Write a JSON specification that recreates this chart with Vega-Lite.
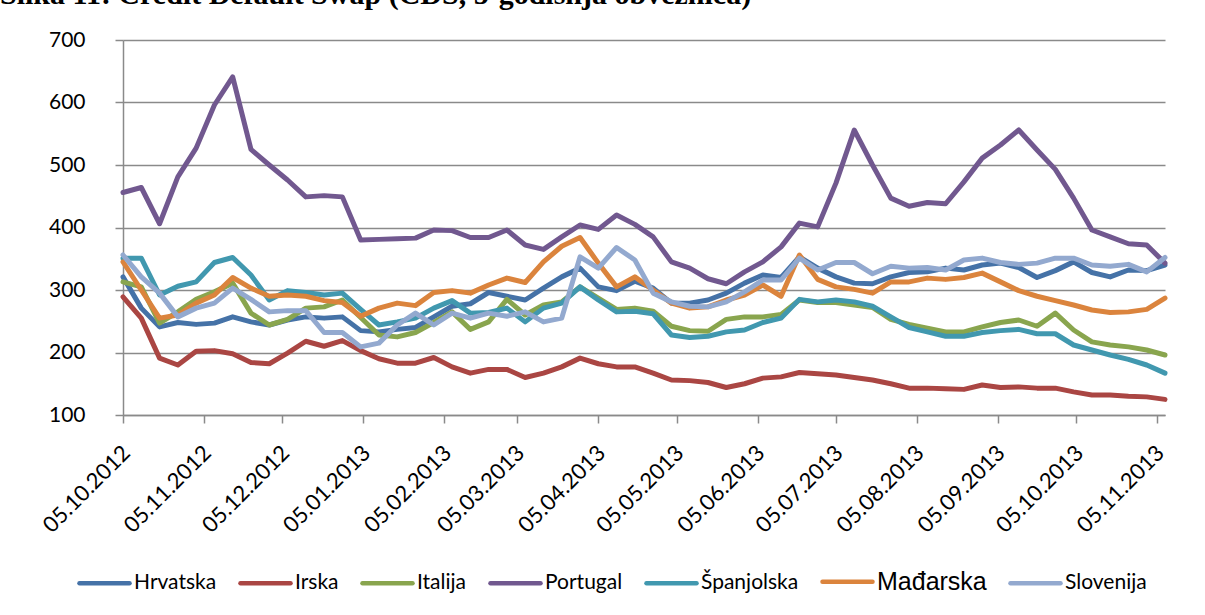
{
  "$schema": "https://vega.github.io/schema/vega-lite/v6.json",
  "width": 1042,
  "height": 375,
  "autosize": {"type": "none"},
  "padding": {"left": 123, "top": 40, "right": 40, "bottom": 200},
  "background": "white",
  "title": {"text": "Slika 11: Credit Default Swap (CDS, 5-godišnja obveznica)", "anchor": "start", "frame": "group", "font": "Liberation Serif", "fontSize": 30, "fontWeight": "bold", "color": "black", "offset": 0, "dx": -123, "dy": 11, "baseline": "bottom"},
  "data": {"values": [
    {"d":"2012-10-05","Hrvatska":321,"Irska":289,"Italija":313,"Portugal":456,"Španjolska":351,"Mađarska":345,"Slovenija":356},
    {"d":"2012-10-12","Hrvatska":271,"Irska":255,"Italija":305,"Portugal":464,"Španjolska":351,"Mađarska":300,"Slovenija":321},
    {"d":"2012-10-19","Hrvatska":241,"Irska":191,"Italija":247,"Portugal":406,"Španjolska":292,"Mađarska":255,"Slovenija":295},
    {"d":"2012-10-26","Hrvatska":248,"Irska":180,"Italija":265,"Portugal":481,"Španjolska":306,"Mađarska":260,"Slovenija":257},
    {"d":"2012-11-02","Hrvatska":245,"Irska":202,"Italija":285,"Portugal":527,"Španjolska":313,"Mađarska":279,"Slovenija":271},
    {"d":"2012-11-09","Hrvatska":247,"Irska":203,"Italija":297,"Portugal":596,"Španjolska":344,"Mađarska":292,"Slovenija":279},
    {"d":"2012-11-16","Hrvatska":257,"Irska":198,"Italija":311,"Portugal":641,"Španjolska":352,"Mađarska":320,"Slovenija":303},
    {"d":"2012-11-23","Hrvatska":249,"Irska":184,"Italija":263,"Portugal":525,"Španjolska":324,"Mađarska":303,"Slovenija":285},
    {"d":"2012-11-30","Hrvatska":244,"Irska":182,"Italija":244,"Portugal":500,"Španjolska":284,"Mađarska":290,"Slovenija":265},
    {"d":"2012-12-07","Hrvatska":252,"Irska":199,"Italija":253,"Portugal":476,"Španjolska":299,"Mađarska":292,"Slovenija":267},
    {"d":"2012-12-14","Hrvatska":257,"Irska":218,"Italija":271,"Portugal":449,"Španjolska":296,"Mađarska":290,"Slovenija":267},
    {"d":"2012-12-21","Hrvatska":255,"Irska":210,"Italija":273,"Portugal":451,"Španjolska":292,"Mađarska":283,"Slovenija":232},
    {"d":"2012-12-28","Hrvatska":257,"Irska":219,"Italija":284,"Portugal":449,"Španjolska":295,"Mađarska":280,"Slovenija":232},
    {"d":"2013-01-04","Hrvatska":235,"Irska":203,"Italija":256,"Portugal":380,"Španjolska":269,"Mađarska":258,"Slovenija":209},
    {"d":"2013-01-11","Hrvatska":233,"Irska":190,"Italija":228,"Portugal":381,"Španjolska":244,"Mađarska":271,"Slovenija":215},
    {"d":"2013-01-18","Hrvatska":237,"Irska":183,"Italija":225,"Portugal":382,"Španjolska":249,"Mađarska":279,"Slovenija":244},
    {"d":"2013-01-25","Hrvatska":240,"Irska":183,"Italija":232,"Portugal":383,"Španjolska":255,"Mađarska":275,"Slovenija":263},
    {"d":"2013-02-01","Hrvatska":257,"Irska":192,"Italija":248,"Portugal":396,"Španjolska":271,"Mađarska":296,"Slovenija":244},
    {"d":"2013-02-08","Hrvatska":274,"Irska":177,"Italija":265,"Portugal":395,"Španjolska":283,"Mađarska":299,"Slovenija":263},
    {"d":"2013-02-15","Hrvatska":278,"Irska":167,"Italija":237,"Portugal":384,"Španjolska":263,"Mađarska":295,"Slovenija":255},
    {"d":"2013-02-22","Hrvatska":296,"Irska":173,"Italija":249,"Portugal":384,"Španjolska":264,"Mađarska":308,"Slovenija":263},
    {"d":"2013-03-01","Hrvatska":290,"Irska":173,"Italija":285,"Portugal":396,"Španjolska":271,"Mađarska":319,"Slovenija":258},
    {"d":"2013-03-08","Hrvatska":284,"Irska":160,"Italija":260,"Portugal":372,"Španjolska":249,"Mađarska":312,"Slovenija":265},
    {"d":"2013-03-15","Hrvatska":303,"Irska":167,"Italija":276,"Portugal":365,"Španjolska":271,"Mađarska":345,"Slovenija":249},
    {"d":"2013-03-22","Hrvatska":321,"Irska":177,"Italija":281,"Portugal":385,"Španjolska":279,"Mađarska":370,"Slovenija":255},
    {"d":"2013-03-29","Hrvatska":335,"Irska":191,"Italija":305,"Portugal":404,"Španjolska":305,"Mađarska":384,"Slovenija":353},
    {"d":"2013-04-05","Hrvatska":305,"Irska":182,"Italija":287,"Portugal":397,"Španjolska":284,"Mađarska":343,"Slovenija":335},
    {"d":"2013-04-12","Hrvatska":299,"Irska":177,"Italija":269,"Portugal":420,"Španjolska":265,"Mađarska":305,"Slovenija":368},
    {"d":"2013-04-19","Hrvatska":314,"Irska":177,"Italija":271,"Portugal":405,"Španjolska":266,"Mađarska":321,"Slovenija":348},
    {"d":"2013-04-26","Hrvatska":303,"Irska":167,"Italija":266,"Portugal":385,"Španjolska":262,"Mađarska":300,"Slovenija":295},
    {"d":"2013-05-03","Hrvatska":279,"Irska":156,"Italija":242,"Portugal":345,"Španjolska":228,"Mađarska":279,"Slovenija":281},
    {"d":"2013-05-10","Hrvatska":279,"Irska":155,"Italija":235,"Portugal":335,"Španjolska":224,"Mađarska":271,"Slovenija":274},
    {"d":"2013-05-17","Hrvatska":284,"Irska":152,"Italija":234,"Portugal":318,"Španjolska":226,"Mađarska":273,"Slovenija":273},
    {"d":"2013-05-24","Hrvatska":295,"Irska":144,"Italija":253,"Portugal":310,"Španjolska":233,"Mađarska":284,"Slovenija":281},
    {"d":"2013-05-31","Hrvatska":311,"Irska":150,"Italija":257,"Portugal":329,"Španjolska":236,"Mađarska":292,"Slovenija":297},
    {"d":"2013-06-07","Hrvatska":324,"Irska":159,"Italija":257,"Portugal":345,"Španjolska":248,"Mađarska":308,"Slovenija":316},
    {"d":"2013-06-14","Hrvatska":320,"Irska":161,"Italija":261,"Portugal":369,"Španjolska":255,"Mađarska":290,"Slovenija":316},
    {"d":"2013-06-21","Hrvatska":353,"Irska":168,"Italija":284,"Portugal":407,"Španjolska":285,"Mađarska":356,"Slovenija":351},
    {"d":"2013-06-28","Hrvatska":335,"Irska":166,"Italija":280,"Portugal":401,"Španjolska":281,"Mađarska":317,"Slovenija":332},
    {"d":"2013-07-05","Hrvatska":321,"Irska":164,"Italija":280,"Portugal":471,"Španjolska":284,"Mađarska":305,"Slovenija":344},
    {"d":"2013-07-12","Hrvatska":311,"Irska":160,"Italija":276,"Portugal":556,"Španjolska":281,"Mađarska":301,"Slovenija":344},
    {"d":"2013-07-19","Hrvatska":310,"Irska":156,"Italija":272,"Portugal":500,"Španjolska":274,"Mađarska":295,"Slovenija":326},
    {"d":"2013-07-26","Hrvatska":321,"Irska":150,"Italija":253,"Portugal":447,"Španjolska":257,"Mađarska":313,"Slovenija":338},
    {"d":"2013-08-02","Hrvatska":328,"Irska":143,"Italija":245,"Portugal":434,"Španjolska":240,"Mađarska":313,"Slovenija":335},
    {"d":"2013-08-09","Hrvatska":329,"Irska":143,"Italija":239,"Portugal":440,"Španjolska":233,"Mađarska":319,"Slovenija":336},
    {"d":"2013-08-16","Hrvatska":335,"Irska":142,"Italija":233,"Portugal":438,"Španjolska":226,"Mađarska":317,"Slovenija":332},
    {"d":"2013-08-23","Hrvatska":332,"Irska":141,"Italija":233,"Portugal":473,"Španjolska":226,"Mađarska":320,"Slovenija":348},
    {"d":"2013-08-30","Hrvatska":340,"Irska":148,"Italija":241,"Portugal":511,"Španjolska":232,"Mađarska":327,"Slovenija":351},
    {"d":"2013-09-06","Hrvatska":343,"Irska":144,"Italija":248,"Portugal":532,"Španjolska":235,"Mađarska":313,"Slovenija":344},
    {"d":"2013-09-13","Hrvatska":336,"Irska":145,"Italija":252,"Portugal":556,"Španjolska":237,"Mađarska":299,"Slovenija":341},
    {"d":"2013-09-20","Hrvatska":320,"Irska":143,"Italija":242,"Portugal":524,"Španjolska":230,"Mađarska":290,"Slovenija":343},
    {"d":"2013-09-27","Hrvatska":331,"Irska":143,"Italija":263,"Portugal":493,"Španjolska":230,"Mađarska":283,"Slovenija":351},
    {"d":"2013-10-04","Hrvatska":345,"Irska":137,"Italija":236,"Portugal":447,"Španjolska":212,"Mađarska":276,"Slovenija":351},
    {"d":"2013-10-11","Hrvatska":328,"Irska":132,"Italija":217,"Portugal":396,"Španjolska":204,"Mađarska":268,"Slovenija":340},
    {"d":"2013-10-18","Hrvatska":321,"Irska":132,"Italija":212,"Portugal":385,"Španjolska":196,"Mađarska":264,"Slovenija":338},
    {"d":"2013-10-25","Hrvatska":332,"Irska":130,"Italija":209,"Portugal":374,"Španjolska":189,"Mađarska":265,"Slovenija":341},
    {"d":"2013-11-01","Hrvatska":331,"Irska":129,"Italija":204,"Portugal":372,"Španjolska":180,"Mađarska":269,"Slovenija":329},
    {"d":"2013-11-08","Hrvatska":340,"Irska":125,"Italija":196,"Portugal":343,"Španjolska":167,"Mađarska":287,"Slovenija":352}
  ]},
  "transform": [
    {"fold": ["Hrvatska","Irska","Italija","Portugal","Španjolska","Mađarska","Slovenija"], "as": ["country","cds"]}
  ],
  "mark": {"type": "line", "strokeWidth": 5, "strokeJoin": "round", "strokeCap": "round"},
  "encoding": {
    "x": {
      "field": "d", "type": "temporal",
      "scale": {"type": "utc", "domain": [{"year":2012,"month":10,"date":5,"utc":true},{"year":2013,"month":11,"date":8,"utc":true}]},
      "axis": {
        "title": null,
        "grid": false,
        "values": [
          {"year":2012,"month":10,"date":5,"utc":true},{"year":2012,"month":11,"date":5,"utc":true},{"year":2012,"month":12,"date":5,"utc":true},
          {"year":2013,"month":1,"date":5,"utc":true},{"year":2013,"month":2,"date":5,"utc":true},{"year":2013,"month":3,"date":5,"utc":true},
          {"year":2013,"month":4,"date":5,"utc":true},{"year":2013,"month":5,"date":5,"utc":true},{"year":2013,"month":6,"date":5,"utc":true},
          {"year":2013,"month":7,"date":5,"utc":true},{"year":2013,"month":8,"date":5,"utc":true},{"year":2013,"month":9,"date":5,"utc":true},
          {"year":2013,"month":10,"date":5,"utc":true},{"year":2013,"month":11,"date":5,"utc":true}
        ],
        "labelExpr": "utcFormat(datum.value, '%d.%m.%Y')",
        "labelAngle": -45, "labelAlign": "right", "labelBaseline": "middle",
        "labelPadding": 26, "labelOffset": 3,
        "labelFont": "Lato", "labelFontSize": 22, "labelColor": "black",
        "labelOverlap": false, "labelFlush": false, "labelBound": false,
        "domainColor": "#8a8a8a", "domainWidth": 1.5,
        "tickColor": "#8a8a8a", "tickWidth": 1.5, "tickSize": 8
      }
    },
    "y": {
      "field": "cds", "type": "quantitative",
      "scale": {"domain": [100, 700], "nice": false, "zero": false},
      "axis": {
        "title": null,
        "values": [100,200,300,400,500,600,700],
        "grid": true, "gridColor": "#8a8a8a", "gridWidth": 1.5,
        "domainColor": "#8a8a8a", "domainWidth": 1.5,
        "tickColor": "#8a8a8a", "tickWidth": 1.5, "tickSize": 8,
        "labelPadding": 30,
        "labelFont": "Lato", "labelFontSize": 21, "labelColor": "black"
      }
    },
    "color": {
      "field": "country", "type": "nominal",
      "scale": {
        "domain": ["Hrvatska","Irska","Italija","Portugal","Španjolska","Mađarska","Slovenija"],
        "range": ["#4572A7","#AA4643","#89A54E","#71588F","#4198AF","#DB843D","#93A9CF"]
      },
      "legend": {
        "title": null,
        "orient": "none",
        "legendX": -46,
        "legendY": 514,
        "direction": "horizontal",
        "symbolType": "stroke",
        "symbolSize": 2500,
        "symbolStrokeWidth": 4.5,
        "labelFont": "Lato",
        "labelFontSize": 21,
        "labelColor": "black",
        "labelOffset": 2,
        "columnPadding": 14,
        "labelLimit": 300,
        "encode": {
          "labels": {"update": {"fontSize": {"signal": "datum.label == 'Mađarska' ? 25 : 21"}, "font": {"signal": "datum.label == 'Mađarska' ? 'Liberation Sans' : 'Lato'"}}},
          "symbols": {"update": {"strokeCap": {"value": "round"}}}
        }
      }
    }
  },
  "config": {"view": {"stroke": null}}
}
